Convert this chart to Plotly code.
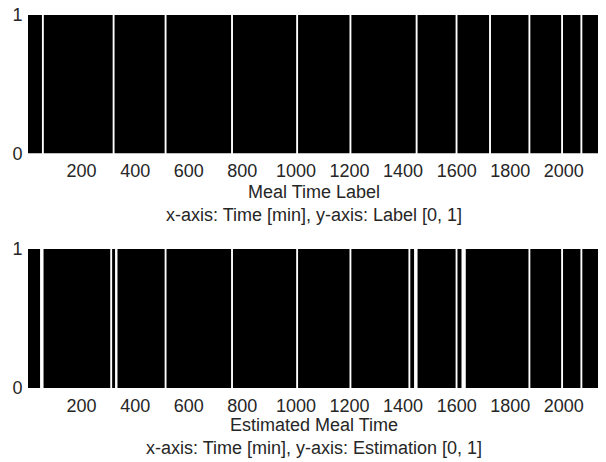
import plotly.graph_objects as go

# ---- data (minutes) ----
x_min, x_max = 0, 2135
x_tick_vals = [200, 400, 600, 800, 1000, 1200, 1400, 1600, 1800, 2000]
y_tick_vals = [0, 1]

# Intervals where the meal time label is 0 (white gaps)
label_gap_start = [52, 316, 510, 758, 1001, 1200, 1447, 1596, 1721, 1868, 1990, 2062]
label_gap_end   = [59, 323, 517, 765, 1008, 1207, 1454, 1603, 1728, 1875, 1997, 2069]

# Intervals where the estimation is 0 (white gaps)
est_gap_start = [45, 307, 325, 510, 758, 1001, 1200, 1420, 1441, 1596, 1618, 1868, 1990, 2062]
est_gap_end   = [58, 314, 334, 517, 765, 1008, 1207, 1427, 1454, 1603, 1634, 1875, 1997, 2069]


def step_series(starts, ends):
    xs, ys = [x_min], [1]
    for s, e in zip(starts, ends):
        xs += [s, e]
        ys += [0, 1]
    xs.append(x_max)
    ys.append(1)
    return xs, ys


lx, ly = step_series(label_gap_start, label_gap_end)
ex, ey = step_series(est_gap_start, est_gap_end)

FONT = "Liberation Sans, Arial, sans-serif"
TXT = "#262626"

fig = go.Figure()
fig.add_trace(go.Scatter(x=lx, y=ly, mode="lines", line=dict(width=0, shape="hv", color="black"),
                         fill="tozeroy", fillcolor="black", xaxis="x", yaxis="y",
                         showlegend=False, hoverinfo="skip"))
fig.add_trace(go.Scatter(x=ex, y=ey, mode="lines", line=dict(width=0, shape="hv", color="black"),
                         fill="tozeroy", fillcolor="black", xaxis="x2", yaxis="y2",
                         showlegend=False, hoverinfo="skip"))

xaxis_common = dict(range=[x_min, x_max], tickvals=x_tick_vals, showgrid=False, zeroline=False,
                    showline=False, ticks="outside", ticklen=1, tickcolor="rgba(0,0,0,0)",
                    automargin=False, ticklabeloverflow="allow",
                    tickfont=dict(family=FONT, size=18, color=TXT))
yaxis_common = dict(range=[0, 1], tickvals=y_tick_vals, showgrid=False, zeroline=False,
                    showline=False, ticks="outside", ticklen=1, tickcolor="rgba(0,0,0,0)",
                    automargin=False, ticklabeloverflow="allow",
                    tickfont=dict(family=FONT, size=18, color=TXT))

# page body adds an 8px offset, so the figure is 8px smaller than the window
fig.update_layout(
    width=598, height=454,
    margin=dict(l=20, r=6, t=7, b=74),
    plot_bgcolor="white", paper_bgcolor="white",
    xaxis=dict(domain=[0, 1], anchor="y", **xaxis_common),
    yaxis=dict(domain=[0.629, 1], anchor="x", **yaxis_common),
    xaxis2=dict(domain=[0, 1], anchor="y2", **xaxis_common),
    yaxis2=dict(domain=[0, 0.3727], anchor="x2", **yaxis_common),
    annotations=[
        dict(text="Meal Time Label<br>x-axis: Time [min], y-axis: Label [0, 1]",
             xref="paper", yref="paper", x=0.5, y=0.4947, xanchor="center", yanchor="middle",
             showarrow=False, font=dict(family=FONT, size=18, color=TXT)),
        dict(text="Estimated Meal Time<br>x-axis: Time [min], y-axis: Estimation [0, 1]",
             xref="paper", yref="paper", x=0.5, y=-0.130, xanchor="center", yanchor="middle",
             showarrow=False, font=dict(family=FONT, size=18, color=TXT)),
    ],
)

fig.write_html("out.html")
